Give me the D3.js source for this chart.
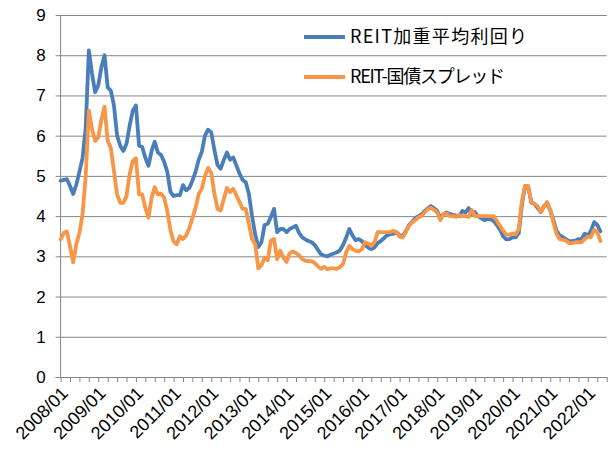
<!DOCTYPE html>
<html><head><meta charset="utf-8">
<script src="https://cdn.jsdelivr.net/npm/d3@7"></script>
<style>body{margin:0;background:#fff}</style>
</head><body>
<svg id="chart" width="608" height="459"></svg>
<script>
const seriesNames = ["REIT加重平均利回り", "REIT-国債スプレッド"];
const seriesColors = ["#4A7EBB", "#F79646"];
const xTickLabels = ["2008/01","2009/01","2010/01","2011/01","2012/01","2013/01","2014/01","2015/01","2016/01","2017/01","2018/01","2019/01","2020/01","2021/01","2022/01"];
const yTicks = [0,1,2,3,4,5,6,7,8,9];
// monthly values starting 2008/01
const reitYield = [
4.88,4.90,4.92,4.75,4.55,4.78,5.10,5.45,6.20,8.12,7.55,7.08,
7.25,7.70,8.00,7.20,7.12,6.75,6.00,5.75,5.62,5.80,6.25,6.62,
6.75,5.75,5.72,5.45,5.25,5.62,5.85,5.58,5.52,5.35,5.10,4.60,
4.50,4.52,4.52,4.77,4.64,4.70,4.88,5.10,5.40,5.60,6.00,6.15,
6.08,5.65,5.27,5.18,5.40,5.58,5.40,5.46,5.26,5.06,4.90,4.84,
4.55,4.00,3.55,3.23,3.35,3.78,3.81,3.98,4.18,3.60,3.68,3.68,
3.60,3.68,3.72,3.76,3.58,3.47,3.42,3.38,3.35,3.28,3.16,3.05,
3.02,3.00,3.04,3.07,3.10,3.15,3.28,3.47,3.68,3.52,3.40,3.43,
3.38,3.28,3.22,3.18,3.22,3.33,3.38,3.45,3.52,3.55,3.56,3.60,
3.52,3.51,3.62,3.78,3.86,3.95,4.00,4.04,4.13,4.19,4.25,4.20,
4.13,3.95,4.05,4.09,4.05,4.03,4.01,4.00,4.13,4.09,4.20,4.05,
4.10,4.00,3.95,3.90,3.93,3.92,3.88,3.78,3.66,3.50,3.42,3.43,
3.47,3.47,3.58,4.30,4.75,4.72,4.33,4.30,4.20,4.10,4.25,4.31,
4.15,3.90,3.64,3.52,3.48,3.43,3.38,3.38,3.39,3.43,3.43,3.56,
3.52,3.64,3.85,3.78,3.62
];
const reitSpread = [
3.42,3.58,3.62,3.25,2.85,3.30,3.58,4.05,5.00,6.62,6.17,5.87,
5.96,6.40,6.72,5.87,5.70,5.12,4.54,4.33,4.33,4.50,5.04,5.37,
5.44,4.54,4.54,4.20,3.96,4.46,4.72,4.54,4.56,4.46,4.12,3.65,
3.37,3.30,3.50,3.43,3.52,3.70,3.95,4.20,4.55,4.68,5.00,5.20,
5.08,4.56,4.18,4.14,4.43,4.70,4.60,4.68,4.52,4.35,4.18,4.18,
3.81,3.43,3.30,2.70,2.78,2.97,2.90,3.39,3.43,2.93,3.14,2.97,
2.86,3.08,3.12,3.08,3.02,2.93,2.89,2.88,2.88,2.83,2.75,2.69,
2.74,2.68,2.70,2.70,2.69,2.73,2.81,3.10,3.26,3.18,3.14,3.12,
3.18,3.35,3.32,3.26,3.35,3.60,3.60,3.60,3.60,3.60,3.64,3.60,
3.49,3.47,3.60,3.76,3.84,3.90,3.97,4.00,4.09,4.17,4.21,4.15,
4.09,3.90,4.05,4.07,4.00,4.00,3.98,4.03,4.00,4.00,3.98,4.15,
4.00,4.00,4.00,4.00,4.00,4.00,4.00,3.88,3.76,3.64,3.54,3.54,
3.57,3.55,3.68,4.38,4.75,4.75,4.35,4.30,4.25,4.10,4.23,4.35,
4.15,3.85,3.56,3.43,3.41,3.39,3.33,3.33,3.35,3.35,3.35,3.43,
3.49,3.48,3.66,3.60,3.38
];

const svg = d3.select("#chart");
const plotLeft = 60.6, plotRight = 606.7, plotTop = 15, plotBottom = 377;
const nCats = 174;
const x = d3.scaleLinear().domain([0, nCats]).range([plotLeft, plotRight]);
const y = d3.scaleLinear().domain([0, 9]).range([plotBottom, plotTop]);
const grey = "#868686";

// gridlines + y ticks
const ga = svg.append("g").attr("transform", `translate(${plotLeft},0)`)
  .call(d3.axisLeft(y).tickValues(yTicks).tickSize(-(plotRight - plotLeft)).tickSizeOuter(0).tickPadding(12).tickFormat(d3.format("d")));
ga.select(".domain").remove();
ga.selectAll(".tick line").attr("stroke", grey).attr("x1", -5).attr("stroke-width", 1);
ga.selectAll(".tick text").attr("font-family", "Liberation Sans, Arial, sans-serif").attr("font-size", 17).attr("fill", "#000").attr("x", -15);

// y axis line
svg.append("line").attr("x1", plotLeft).attr("x2", plotLeft).attr("y1", plotTop).attr("y2", plotBottom).attr("stroke", grey);

// x axis
const xa = svg.append("g").attr("transform", `translate(0,${plotBottom})`)
  .call(d3.axisBottom(x).tickValues(d3.range(0, nCats + 1, 3)).tickSize(5).tickSizeOuter(0).tickFormat(""));
xa.select(".domain").attr("stroke", grey).attr("d", `M${plotLeft - 5},0.5H${plotRight}`);
xa.selectAll(".tick line").attr("stroke", grey);

// x labels
svg.append("g").selectAll("text").data(xTickLabels).join("text")
  .attr("transform", (d, i) => `translate(${x(i * 12) + 4},${plotBottom + 13}) rotate(-45)`)
  .attr("text-anchor", "end")
  .attr("dy", "0.35em")
  .attr("font-family", "Liberation Sans, Arial, sans-serif")
  .attr("font-size", 18)
  .text(d => d);

// lines
const line = d3.line().x((d, i) => x(i)).y(d => y(d));
[reitYield, reitSpread].forEach((s, k) => {
  svg.append("path").datum(s).attr("d", line).attr("fill", "none")
    .attr("stroke", seriesColors[k]).attr("stroke-width", 3.8)
    .attr("stroke-linejoin", "round").attr("stroke-linecap", "round");
});

// legend
const leg = svg.append("g");
const legY = [37, 77];
const legW = [177, 155];
seriesNames.forEach((n, k) => {
  leg.append("line").attr("x1", 304).attr("x2", 345).attr("y1", legY[k]).attr("y2", legY[k])
    .attr("stroke", seriesColors[k]).attr("stroke-width", 3.8);
  leg.append("text").attr("x", 350).attr("y", legY[k]).attr("dy", "0.36em")
    .attr("font-family", "Noto Sans CJK JP, sans-serif").attr("font-size", 18)
    .attr("textLength", legW[k]).attr("lengthAdjust", "spacing").text(n);
});
</script>
</body></html>
